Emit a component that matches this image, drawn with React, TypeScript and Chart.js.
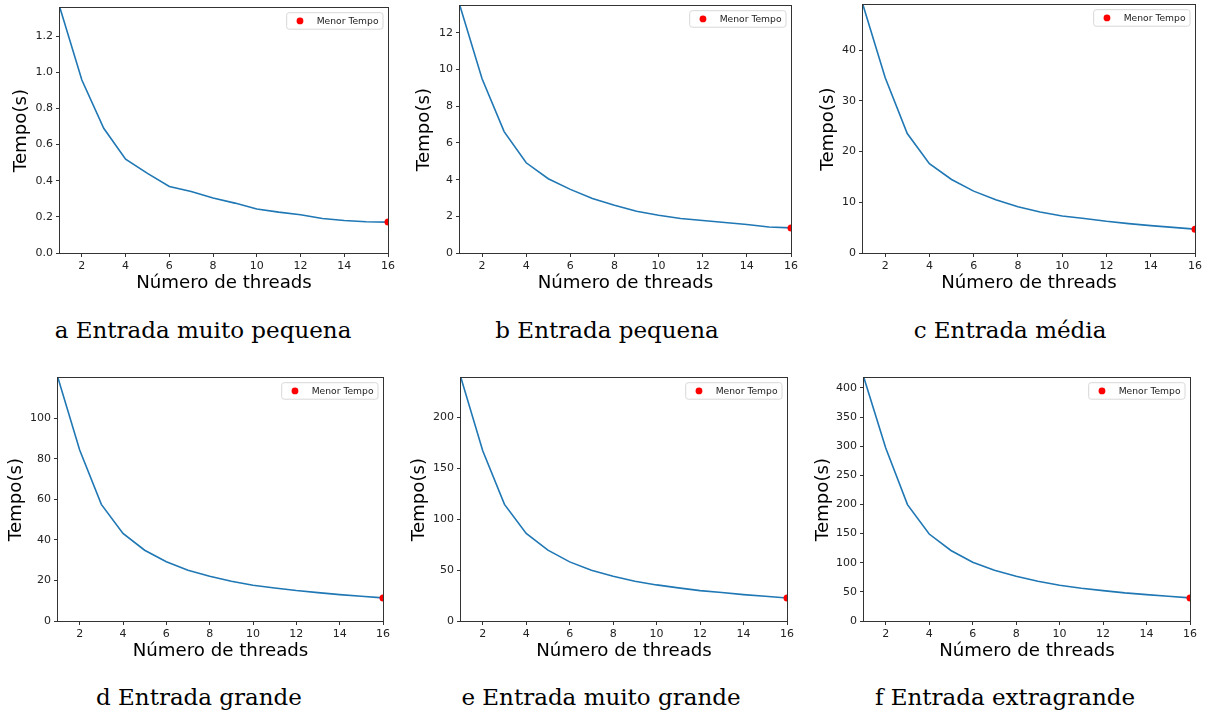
import React, { useEffect, useRef } from "react";
import { Chart, registerables } from "chart.js";
Chart.register(...registerables);

// ---------- data ----------
const threads = [1, 2, 3, 4, 5, 6, 7, 8, 9, 10, 11, 12, 13, 14, 15, 16];
const xTicks = [2, 4, 6, 8, 10, 12, 14, 16];

const tempoMuitoPequena = [1.355, 0.957, 0.69, 0.519, 0.44, 0.368, 0.34, 0.304, 0.276, 0.243, 0.226, 0.212, 0.191, 0.18, 0.173, 0.171];
const tempoPequena = [13.47, 9.5, 6.62, 4.92, 4.05, 3.47, 2.97, 2.6, 2.28, 2.06, 1.88, 1.77, 1.66, 1.55, 1.42, 1.37];
const tempoMedia = [48.9, 34.6, 23.55, 17.6, 14.5, 12.2, 10.5, 9.1, 8.1, 7.3, 6.8, 6.25, 5.8, 5.4, 5.05, 4.7];
const tempoGrande = [119.8, 84.3, 57.5, 43.2, 34.9, 29.2, 25.0, 22.1, 19.6, 17.6, 16.3, 15.0, 14.0, 13.0, 12.2, 11.4];
const tempoMuitoGrande = [238.4, 167, 114.4, 85.9, 69.5, 58, 49.8, 43.9, 39, 35.4, 32.5, 29.8, 27.9, 25.9, 24.3, 22.6];
const tempoExtragrande = [417, 296.7, 199.7, 149.2, 121, 101, 87.2, 76.9, 68.3, 61.4, 56.2, 52.2, 48.2, 45.3, 42.5, 39.6];

const yTicksMuitoPequena = [0, 0.2, 0.4, 0.6, 0.8, 1.0, 1.2];
const yTicksPequena = [0, 2, 4, 6, 8, 10, 12];
const yTicksMedia = [0, 10, 20, 30, 40];
const yTicksGrande = [0, 20, 40, 60, 80, 100];
const yTicksMuitoGrande = [0, 50, 100, 150, 200];
const yTicksExtragrande = [0, 50, 100, 150, 200, 250, 300, 350, 400];

const captions = [
  "a Entrada muito pequena",
  "b Entrada pequena",
  "c Entrada média",
  "d Entrada grande",
  "e Entrada muito grande",
  "f Entrada extragrande",
];

const legendLabel = "Menor Tempo";
const xTitle = "Número de threads";
const yTitle = "Tempo(s)";

// ---------- layout ----------
type Panel = {
  values: number[];
  yTicks: number[];
  decimals: number;
  caption: string;
  plot: { l: number; t: number; r: number; b: number };
  yGap: number;
  capX: number;
  capBase: number;
};

const panels: Panel[] = [
  { values: tempoMuitoPequena, yTicks: yTicksMuitoPequena, decimals: 1, caption: captions[0], plot: { l: 60, t: 8, r: 388, b: 253 }, yGap: 38.7, capX: 203, capBase: 338.3 },
  { values: tempoPequena, yTicks: yTicksPequena, decimals: 0, caption: captions[1], plot: { l: 460, t: 6, r: 791, b: 253 }, yGap: 35.8, capX: 607, capBase: 338.3 },
  { values: tempoMedia, yTicks: yTicksMedia, decimals: 0, caption: captions[2], plot: { l: 863, t: 5, r: 1195, b: 253 }, yGap: 35, capX: 1010, capBase: 338.3 },
  { values: tempoGrande, yTicks: yTicksGrande, decimals: 0, caption: captions[3], plot: { l: 58, t: 378, r: 383, b: 621 }, yGap: 42.1, capX: 199, capBase: 705 },
  { values: tempoMuitoGrande, yTicks: yTicksMuitoGrande, decimals: 0, caption: captions[4], plot: { l: 461, t: 378, r: 787, b: 621 }, yGap: 41.5, capX: 601, capBase: 705 },
  { values: tempoExtragrande, yTicks: yTicksExtragrande, decimals: 0, caption: captions[5], plot: { l: 864, t: 378, r: 1190, b: 621 }, yGap: 41.2, capX: 1005, capBase: 705 },
];

const Y_W = 60;
const X_H = 46;
const PAD_T = 5;
const PAD_R = 13;
const TITLE_SIZE = 18.2;
const TITLE_LH = 1.2;
const TICK_FONT = { family: "DejaVu Sans", size: 11 };
const AXIS_COLOR = "#333333";

const framePlugin = {
  id: "frameAndLegend",
  afterDatasetsDraw(chart: any) {
    const { ctx, chartArea } = chart;
    ctx.save();
    // axes frame
    ctx.strokeStyle = AXIS_COLOR;
    ctx.lineWidth = 1;
    const l = Math.round(chartArea.left) - 0.5;
    const t = Math.round(chartArea.top) - 0.5;
    const r = Math.round(chartArea.right) + 0.5;
    const b = Math.round(chartArea.bottom) + 0.5;
    ctx.strokeRect(l, t, r - l, b - t);

    // legend inside top-right
    const ds = chart.data.datasets[0];
    ctx.font = '9.2px "DejaVu Sans"';
    const tw = ctx.measureText(ds.label).width;
    const w = 30 + tw + 4.5;
    const h = 16.5;
    const x = chartArea.right - 5 - w;
    const y = chartArea.top + 4.7;
    ctx.beginPath();
    if ((ctx as any).roundRect) (ctx as any).roundRect(x, y, w, h, 2.5);
    else ctx.rect(x, y, w, h);
    ctx.fillStyle = "rgba(255,255,255,0.8)";
    ctx.fill();
    ctx.strokeStyle = "#d8d8d8";
    ctx.lineWidth = 1;
    ctx.stroke();
    ctx.beginPath();
    ctx.arc(x + 13.3, y + h / 2, 3.4, 0, Math.PI * 2);
    ctx.fillStyle = ds.pointBackgroundColor;
    ctx.fill();
    ctx.fillStyle = "#222222";
    ctx.textBaseline = "middle";
    ctx.textAlign = "left";
    ctx.fillText(ds.label, x + 30, y + h / 2 + 0.5);
    ctx.restore();
  },
};

function PanelChart({ p }: { p: Panel }) {
  const ref = useRef<HTMLCanvasElement | null>(null);
  const plotW = p.plot.r - p.plot.l;
  const plotH = p.plot.b - p.plot.t;
  const cw = Y_W + plotW + PAD_R;
  const ch = PAD_T + plotH + X_H;
  const left = p.plot.l - Y_W;
  const top = p.plot.t - PAD_T;

  useEffect(() => {
    if (!ref.current) return;
    const pts = threads.map((t, i) => ({ x: t, y: p.values[i] }));
    const minV = Math.min(...p.values);
    const minI = p.values.indexOf(minV);
    const maxV = Math.max(...p.values);
    const halfLH = (TITLE_SIZE * TITLE_LH) / 2;
    const yTitlePad = Y_W - p.yGap - halfLH;
    const xTitlePad = X_H - 30 - halfLH;

    const chart = new Chart(ref.current, {
      type: "line",
      data: {
        datasets: [
          {
            type: "scatter",
            label: legendLabel,
            data: [{ x: threads[minI], y: minV }],
            pointRadius: 3.5,
            pointBackgroundColor: "#ff0000",
            pointBorderWidth: 0,
            clip: 0,
          } as any,
          {
            type: "line",
            label: "tempo",
            data: pts,
            borderColor: "#1f77b4",
            borderWidth: 1.6,
            pointRadius: 0,
            fill: false,
            tension: 0,
            clip: 0,
          } as any,
        ],
      },
      options: {
        animation: false,
        responsive: false,
        devicePixelRatio: 1,
        events: [],
        layout: { padding: { left: 0, top: PAD_T, right: PAD_R, bottom: 0 } },
        plugins: { legend: { display: false }, tooltip: { enabled: false } },
        scales: {
          x: {
            type: "linear",
            min: threads[0],
            max: threads[threads.length - 1],
            afterBuildTicks: (s: any) => {
              s.ticks = xTicks.map((v) => ({ value: v }));
            },
            afterFit: (s: any) => {
              s.height = X_H;
              s.paddingLeft = 0;
              s.paddingRight = 0;
              s.paddingTop = 0;
              s.paddingBottom = 0;
            },
            ticks: { font: TICK_FONT, color: "#222222", padding: 3, maxRotation: 0, autoSkip: false, callback: (v: any) => String(v) },
            grid: { display: true, drawOnChartArea: false, drawTicks: true, tickLength: 4, tickColor: AXIS_COLOR, tickWidth: 1 },
            border: { display: false },
            title: {
              display: true,
              text: xTitle,
              color: "#000000",
              font: { family: "DejaVu Sans", size: TITLE_SIZE, lineHeight: TITLE_LH },
              padding: { top: 0, bottom: xTitlePad },
            },
          },
          y: {
            type: "linear",
            min: 0,
            max: maxV,
            afterBuildTicks: (s: any) => {
              s.ticks = p.yTicks.map((v) => ({ value: v }));
            },
            afterFit: (s: any) => {
              s.width = Y_W;
              s.paddingLeft = 0;
              s.paddingRight = 0;
              s.paddingTop = 0;
              s.paddingBottom = 0;
            },
            ticks: {
              font: TICK_FONT,
              color: "#222222",
              padding: 3,
              autoSkip: false,
              callback: (v: any) => Number(v).toFixed(p.decimals),
            },
            grid: { display: true, drawOnChartArea: false, drawTicks: true, tickLength: 4, tickColor: AXIS_COLOR, tickWidth: 1 },
            border: { display: false },
            title: {
              display: true,
              text: yTitle,
              color: "#000000",
              font: { family: "DejaVu Sans", size: TITLE_SIZE, lineHeight: TITLE_LH },
              padding: { top: yTitlePad, bottom: 0 },
            },
          },
        },
      } as any,
      plugins: [framePlugin],
    });
    return () => chart.destroy();
  }, [p]);

  return (
    <canvas
      ref={ref}
      width={cw}
      height={ch}
      style={{ position: "absolute", left, top, width: cw, height: ch }}
    />
  );
}

const CAP_SIZE = 23;

export default function App() {
  return (
    <div
      style={{
        position: "absolute",
        left: 0,
        top: 0,
        width: 1208,
        height: 712,
        overflow: "hidden",
        background: "#ffffff",
      }}
    >
      {panels.map((p, i) => (
        <React.Fragment key={i}>
          <PanelChart p={p} />
          <div
            style={{
              position: "absolute",
              left: p.capX - 250,
              width: 500,
              top: p.capBase - CAP_SIZE * 0.846,
              textAlign: "center",
              fontFamily: '"DejaVu Serif", serif',
              fontSize: CAP_SIZE,
              lineHeight: 1,
              color: "#000",
              whiteSpace: "nowrap",
            }}
          >
            {p.caption}
          </div>
        </React.Fragment>
      ))}
    </div>
  );
}
